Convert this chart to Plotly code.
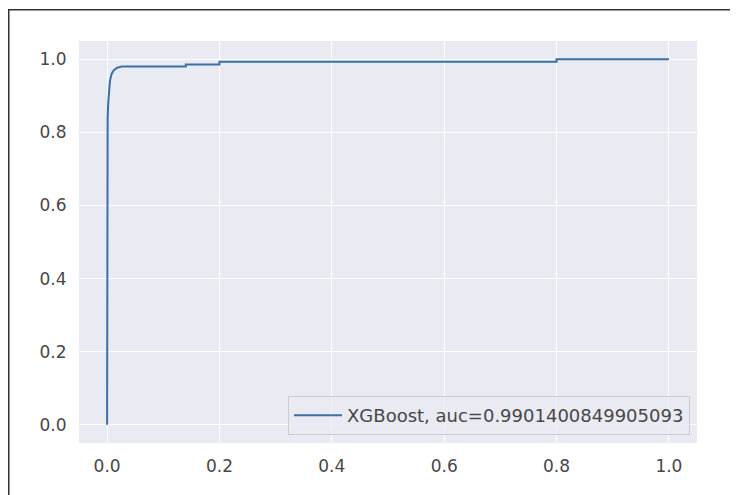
import plotly.graph_objects as go

# ROC curve values
fpr = [0.0, 0.0, 0.001, 0.002, 0.003, 0.005, 0.008, 0.012, 0.018, 0.026, 0.14, 0.14, 0.2, 0.2, 0.8, 0.8, 1.0]
tpr = [0.0, 0.70, 0.84, 0.88, 0.91, 0.94, 0.96, 0.97, 0.977, 0.98, 0.98, 0.986, 0.986, 0.993, 0.993, 1.0, 1.0]
series_name = "XGBoost, auc=0.9901400849905093"
tick_vals = [0.0, 0.2, 0.4, 0.6, 0.8, 1.0]
tick_text = ["0.0", "0.2", "0.4", "0.6", "0.8", "1.0"]

# page body has an 8px margin, so the figure is drawn at offset (8, 8)
OFF = 8
W, H = 738 - OFF, 495 - OFF
L, R, T, B = 79 - OFF, 41, 41 - OFF, 52
pw, ph = W - L - R, H - T - B

fig = go.Figure()
fig.add_trace(go.Scatter(x=fpr, y=tpr, mode="lines", name=series_name,
                         line=dict(color="#3a70a6", width=2)))

def px2x(p):
    return (p - OFF - L) / pw

def py2y(p):
    return (H - B - (p - OFF)) / ph

tick_font = dict(size=17, color="#474747")
fig.update_layout(
    width=W, height=H,
    margin=dict(l=L, r=R, t=T, b=B),
    paper_bgcolor="white",
    plot_bgcolor="#EAEAF2",
    font=dict(family="DejaVu Sans", size=17, color="#474747"),
    showlegend=True,
    legend=dict(x=px2x(690), y=py2y(435), xanchor="right", yanchor="bottom",
                bgcolor="rgba(234,234,242,0.8)", bordercolor="#CCCCCC", borderwidth=1,
                itemwidth=48,
                font=dict(size=18, color="#474747")),
    xaxis=dict(range=[-0.05, 1.05], tickvals=tick_vals, ticktext=tick_text,
               showgrid=True, gridcolor="white", gridwidth=1, zeroline=False,
               showline=False, ticks="outside", ticklen=8, tickcolor="rgba(0,0,0,0)",
               tickfont=tick_font),
    yaxis=dict(range=[-0.05, 1.05], tickvals=tick_vals, ticktext=tick_text,
               showgrid=True, gridcolor="white", gridwidth=1, zeroline=False,
               showline=False, ticks="outside", ticklen=8, tickcolor="rgba(0,0,0,0)",
               tickfont=tick_font),
    shapes=[dict(type="rect", xref="paper", yref="paper",
                 x0=px2x(8.75), x1=px2x(760), y0=py2y(520), y1=py2y(9.75),
                 line=dict(color="#333333", width=1.5), fillcolor="rgba(0,0,0,0)",
                 layer="above")],
)

fig.write_html("out.html")
